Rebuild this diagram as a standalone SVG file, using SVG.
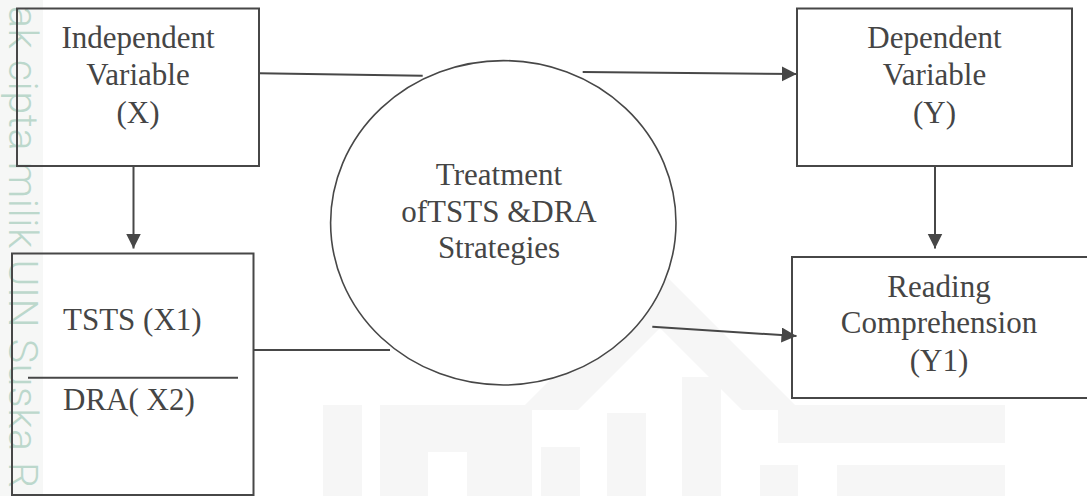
<svg xmlns="http://www.w3.org/2000/svg" width="1087" height="496" viewBox="0 0 1087 496">
  <style>
    .box { fill: none; stroke: #474747; stroke-width: 2; }
    .lbl { font-family: "Liberation Serif", "Times New Roman", serif; font-size: 31px; fill: #454545; }
    .mid { text-anchor: middle; }
    .conn { fill: none; stroke: #474747; stroke-width: 2; }
    .wm { fill: #f6f6f6; }
  </style>
  <defs>
    <marker id="arrow" markerUnits="userSpaceOnUse" markerWidth="16" markerHeight="16" refX="15" refY="7.5" orient="auto">
      <path d="M0,0 L15,7.5 L0,15 z" fill="#474747"/>
    </marker>
  </defs>

  <rect width="1087" height="496" fill="#ffffff"/>

  <!-- faint watermark -->
  <g id="watermark">
    <rect x="0" y="0" width="43" height="496" fill="#f6f7f6"/>
    <text transform="translate(9,6) rotate(90)" font-family="Roboto, 'Liberation Sans', sans-serif" font-weight="300" font-size="41" letter-spacing="0.6" fill="#bcd8cc">ak cipta milik UIN Suska R</text>
    <polygon class="wm" points="660,270 520,410 578,410 660,328 742,410 800,410"/>
    <rect class="wm" x="323" y="405" width="39" height="91"/>
    <path class="wm" d="M380,405 H532 V496 H467 V452 H428 V496 H380 Z"/>
    <rect class="wm" x="541" y="447" width="39" height="49"/>
    <rect class="wm" x="607" y="413" width="39" height="83"/>
    <rect class="wm" x="682" y="377" width="39" height="119"/>
    <rect class="wm" x="778" y="405" width="227" height="38"/>
    <rect class="wm" x="760" y="465" width="38" height="31"/>
    <rect class="wm" x="837" y="465" width="168" height="31"/>
  </g>

  <g id="connectors">
    <line class="conn" x1="133.5" y1="166" x2="133.5" y2="248.5" marker-end="url(#arrow)"/>
    <line class="conn" x1="935" y1="166" x2="935" y2="248.5" marker-end="url(#arrow)"/>
    <line class="conn" x1="259" y1="73.3" x2="422.7" y2="75.7"/>
    <line class="conn" x1="582.7" y1="72" x2="796.7" y2="74" marker-end="url(#arrow)"/>
    <line class="conn" x1="253" y1="350" x2="390" y2="350"/>
    <line class="conn" x1="652.3" y1="326.7" x2="796.5" y2="336" marker-end="url(#arrow)"/>
  </g>

  <g id="independent">
    <rect class="box" x="17" y="8.5" width="242" height="157.5"/>
    <text class="lbl mid" x="138" y="48.3">Independent</text>
    <text class="lbl mid" x="138" y="85">Variable</text>
    <text class="lbl mid" x="138" y="122.7">(X)</text>
  </g>

  <g id="tsts-dra">
    <rect class="box" x="12" y="253.5" width="241.5" height="241.5"/>
    <text class="lbl" x="63" y="330">TSTS (X1)</text>
    <line class="conn" x1="28" y1="377.7" x2="238" y2="377.7"/>
    <text class="lbl" x="63" y="410">DRA( X2)</text>
  </g>

  <g id="treatment">
    <ellipse cx="503.3" cy="222.8" rx="172.7" ry="162.2" fill="#ffffff" stroke="#474747" stroke-width="1.6"/>
    <text class="lbl mid" x="499" y="185">Treatment</text>
    <text class="lbl mid" x="499" y="221.7">ofTSTS &amp;DRA</text>
    <text class="lbl mid" x="499" y="258.3">Strategies</text>
  </g>

  <g id="dependent">
    <rect class="box" x="797" y="8.5" width="275" height="157.5"/>
    <text class="lbl mid" x="934.5" y="48.3">Dependent</text>
    <text class="lbl mid" x="934.5" y="85">Variable</text>
    <text class="lbl mid" x="934.5" y="122.7">(Y)</text>
  </g>

  <g id="reading">
    <rect class="box" x="792" y="257" width="300" height="141"/>
    <text class="lbl mid" x="939" y="296.7">Reading</text>
    <text class="lbl mid" x="939" y="333">Comprehension</text>
    <text class="lbl mid" x="939" y="370.5">(Y1)</text>
  </g>
</svg>
